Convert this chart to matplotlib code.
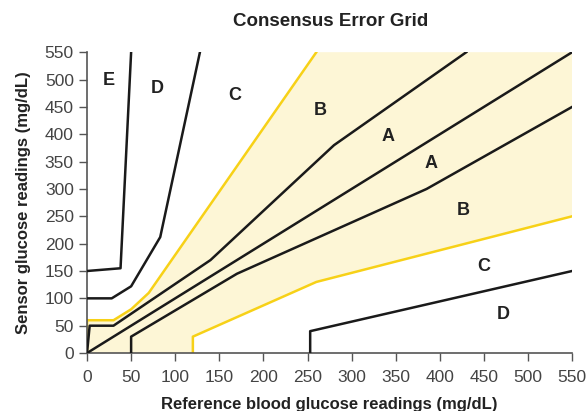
import matplotlib
matplotlib.use("Agg")
import matplotlib.pyplot as plt

plt.rcParams['font.family'] = ['Liberation Sans', 'DejaVu Sans']

# zone boundaries (reference, sensor) in mg/dL
a_upper_x = [0, 3, 30, 140, 280, 430]
a_upper_y = [0, 50, 50, 170, 380, 550]
a_lower_x = [50, 50, 170, 385, 550]
a_lower_y = [0, 30, 145, 300, 450]
diag_x = [0, 550]
diag_y = [0, 550]
b_upper_x = [0, 0, 30, 50, 70, 260]
b_upper_y = [0, 60, 60, 80, 110, 550]
b_lower_x = [120, 120, 260, 550]
b_lower_y = [0, 30, 130, 250]
c_upper_x = [0, 28, 50, 83, 128]
c_upper_y = [100, 100, 122, 212, 550]
c_lower_x = [253, 253, 550]
c_lower_y = [0, 40, 150]
d_upper_x = [0, 38, 50]
d_upper_y = [150, 155, 550]

zone_labels = ['E', 'D', 'C', 'B', 'A', 'A', 'B', 'C', 'D']
zone_x = [25, 80, 168, 264, 341, 390, 426, 450, 472]
zone_y = [499, 484, 470, 444, 396, 347, 261, 159, 71]

fig = plt.figure(figsize=(5.88, 4.11), dpi=100)
ax = fig.add_axes([0.148, 0.141, 0.825, 0.732])

yellow = '#F7D117'
fill = '#FDF6D6'

# shaded B region: upper boundary, top-right corner, lower boundary back
poly_x = b_upper_x + [550] + b_lower_x[::-1]
poly_y = b_upper_y + [550] + b_lower_y[::-1]
ax.fill(poly_x, poly_y, color=fill, lw=0, zorder=0)

ax.plot(b_upper_x, b_upper_y, color=yellow, lw=1.8, zorder=2)
ax.plot(b_lower_x, b_lower_y, color=yellow, lw=1.8, zorder=2)

for xs, ys in [(a_upper_x, a_upper_y), (a_lower_x, a_lower_y), (diag_x, diag_y),
               (c_upper_x, c_upper_y), (c_lower_x, c_lower_y), (d_upper_x, d_upper_y)]:
    ax.plot(xs, ys, color='#1a1a1a', lw=1.8, zorder=3)

for lab, x, y in zip(zone_labels, zone_x, zone_y):
    ax.text(x, y, lab, fontsize=13, fontweight='bold', color='#222222',
            ha='center', va='center', zorder=4)

ax.set_xlim(0, 550)
ax.set_ylim(0, 550)
ax.set_xticks(range(0, 551, 50))
ax.set_yticks(range(0, 551, 50))
ax.spines['top'].set_visible(False)
ax.spines['right'].set_visible(False)
for s in ['left', 'bottom']:
    ax.spines[s].set_color('#555555')
    ax.spines[s].set_linewidth(1.2)
ax.tick_params(colors='#555555', labelcolor='#444444', labelsize=12.5, length=6, width=1)
ax.tick_params(axis='x', pad=6)

ax.set_xlabel('Reference blood glucose readings (mg/dL)', fontsize=12, fontweight='bold',
              color='#222222', labelpad=9)
ax.set_ylabel('Sensor glucose readings (mg/dL)', fontsize=12, fontweight='bold',
              color='#222222', labelpad=10)
fig.text(0.563, 0.948, 'Consensus Error Grid', fontsize=13.5, fontweight='bold',
         color='#222222', ha='center', va='center')

fig.savefig('out.png', dpi=100)
